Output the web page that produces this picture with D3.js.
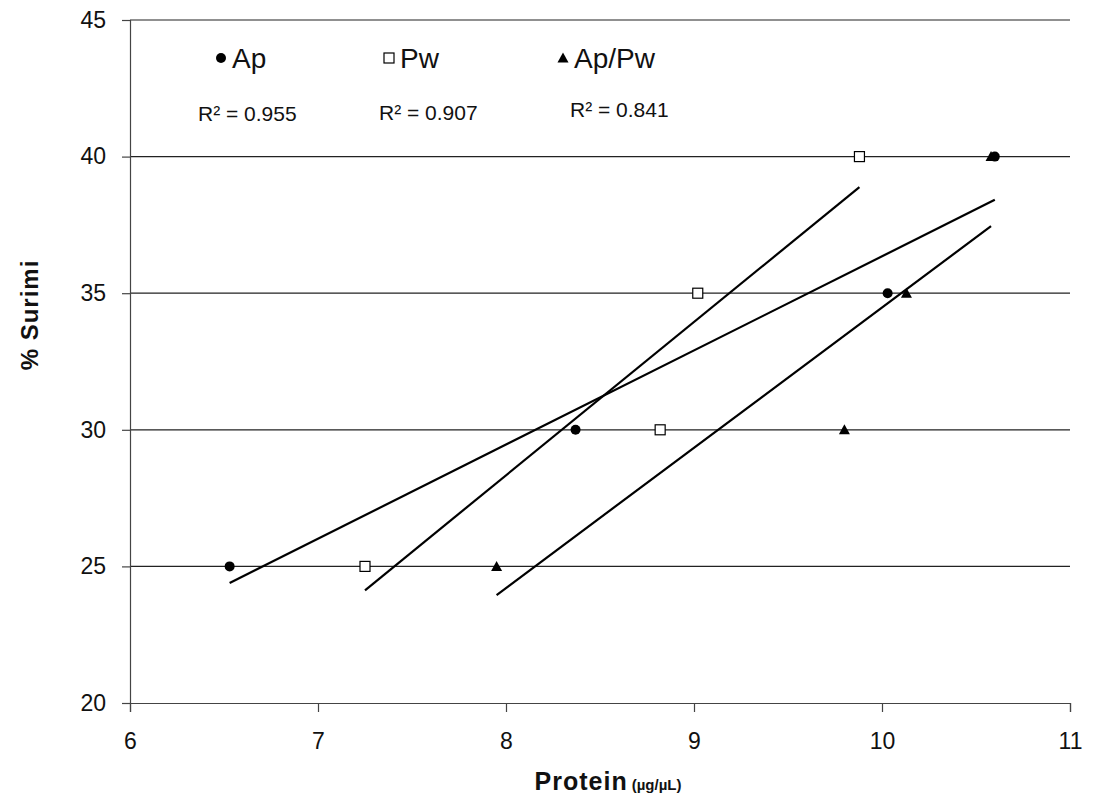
<!DOCTYPE html>
<html>
<head>
<meta charset="utf-8">
<script src="https://cdn.jsdelivr.net/npm/d3@7"></script>
<style>
  html, body { margin: 0; padding: 0; background: #fff; }
  svg { display: block; font-family: "Liberation Sans", Arial, sans-serif; }
</style>
</head>
<body>
<svg id="chart" width="1096" height="804"></svg>
<script>
// % surimi levels shared by all three series
const surimi = [25, 30, 35, 40];
// Protein readings (µg/µL) for each extraction
const apProtein   = [6.53, 8.37, 10.03, 10.60];
const pwProtein   = [7.25, 8.82, 9.02, 9.88];
const apPwProtein = [7.95, 9.80, 10.13, 10.58];

const seriesNames = ["Ap", "Pw", "Ap/Pw"];
const rSquaredLabels = ["R² = 0.955", "R² = 0.907", "R² = 0.841"];
const xTicks = [6, 7, 8, 9, 10, 11];
const yTicks = [20, 25, 30, 35, 40, 45];

const svg = d3.select("#chart");
const x = d3.scaleLinear().domain([6, 11]).range([130, 1070]);
const y = d3.scaleLinear().domain([20, 45]).range([703, 20]);

// horizontal gridlines
svg.append("g")
  .selectAll("line")
  .data(yTicks.filter(t => t > 20))
  .join("line")
  .attr("x1", x(6)).attr("x2", x(11))
  .attr("y1", d => y(d)).attr("y2", d => y(d))
  .attr("stroke", "#222").attr("stroke-width", 1.2);

// y axis
const yAxis = svg.append("g")
  .attr("transform", `translate(${x(6)},0)`)
  .call(d3.axisLeft(y).tickValues(yTicks).tickFormat(d3.format("d")).tickSize(8).tickPadding(16));
yAxis.select(".domain").attr("stroke", "#444").attr("stroke-width", 1.2);
yAxis.selectAll(".tick line").attr("stroke", "#444").attr("stroke-width", 1.2);
yAxis.selectAll("text").attr("font-size", 23).attr("font-family", "Liberation Sans, Arial, sans-serif").attr("fill", "#111");

// x axis
const xAxis = svg.append("g")
  .attr("transform", `translate(0,${y(20)})`)
  .call(d3.axisBottom(x).tickValues(xTicks).tickFormat(d3.format("d")).tickSize(9).tickPadding(21));
xAxis.select(".domain").attr("stroke", "#444").attr("stroke-width", 1.2);
xAxis.selectAll(".tick line").attr("stroke", "#444").attr("stroke-width", 1.2);
xAxis.selectAll("text").attr("font-size", 23).attr("font-family", "Liberation Sans, Arial, sans-serif").attr("fill", "#111");

// axis titles
svg.append("text")
  .attr("transform", "translate(38,315) rotate(-90)")
  .attr("text-anchor", "middle")
  .attr("font-size", 24).attr("font-weight", "bold")
  .attr("letter-spacing", 1)
  .attr("fill", "#111")
  .text("% Surimi");

const xt = svg.append("text")
  .attr("x", 608).attr("y", 790)
  .attr("text-anchor", "middle")
  .attr("fill", "#111").attr("font-weight", "bold");
xt.append("tspan").attr("font-size", 25).attr("letter-spacing", 1).text("Protein");
xt.append("tspan").attr("font-size", 15).attr("dx", 4).text("(µg/µL)");

// least-squares trendline of % surimi on protein, spanning the data range
function fit(xs, ys) {
  const mx = d3.mean(xs), my = d3.mean(ys);
  const sxy = d3.sum(xs, (v, i) => (v - mx) * (ys[i] - my));
  const sxx = d3.sum(xs, v => (v - mx) ** 2);
  const b = sxy / sxx, a = my - b * mx;
  const [x0, x1] = d3.extent(xs);
  return [[x0, a + b * x0], [x1, a + b * x1]];
}

const series = [
  { name: seriesNames[0], xs: apProtein, shape: "circle" },
  { name: seriesNames[1], xs: pwProtein, shape: "square" },
  { name: seriesNames[2], xs: apPwProtein, shape: "triangle" }
];

const line = d3.line().x(d => x(d[0])).y(d => y(d[1]));
series.forEach(s => {
  svg.append("path")
    .attr("d", line(fit(s.xs, surimi)))
    .attr("stroke", "#000").attr("stroke-width", 2.2).attr("fill", "none");
});

function drawMarker(g, shape, cx, cy) {
  if (shape === "circle") {
    g.append("circle").attr("cx", cx).attr("cy", cy).attr("r", 5).attr("fill", "#000");
  } else if (shape === "square") {
    g.append("rect").attr("x", cx - 5).attr("y", cy - 5).attr("width", 10).attr("height", 10)
      .attr("fill", "#fff").attr("stroke", "#000").attr("stroke-width", 1.2);
  } else {
    g.append("path")
      .attr("d", `M${cx},${cy - 5.5}L${cx + 5.5},${cy + 4.5}L${cx - 5.5},${cy + 4.5}Z`)
      .attr("fill", "#000");
  }
}

const marks = svg.append("g");
series.forEach(s => {
  s.xs.forEach((v, i) => drawMarker(marks, s.shape, x(v), y(surimi[i])));
});

// legend with R² annotations
const legendX = [221, 389, 563];
const r2X = [198, 379, 570];
const r2Y = [121, 120, 117];
series.forEach((s, i) => {
  drawMarker(svg, s.shape, legendX[i], 58);
  svg.append("text")
    .attr("x", legendX[i] + 11).attr("y", 68)
    .attr("font-size", 28).attr("fill", "#111")
    .text(s.name);
  svg.append("text")
    .attr("x", r2X[i]).attr("y", r2Y[i])
    .attr("font-size", 21).attr("fill", "#111")
    .text(rSquaredLabels[i]);
});
</script>
</body>
</html>
